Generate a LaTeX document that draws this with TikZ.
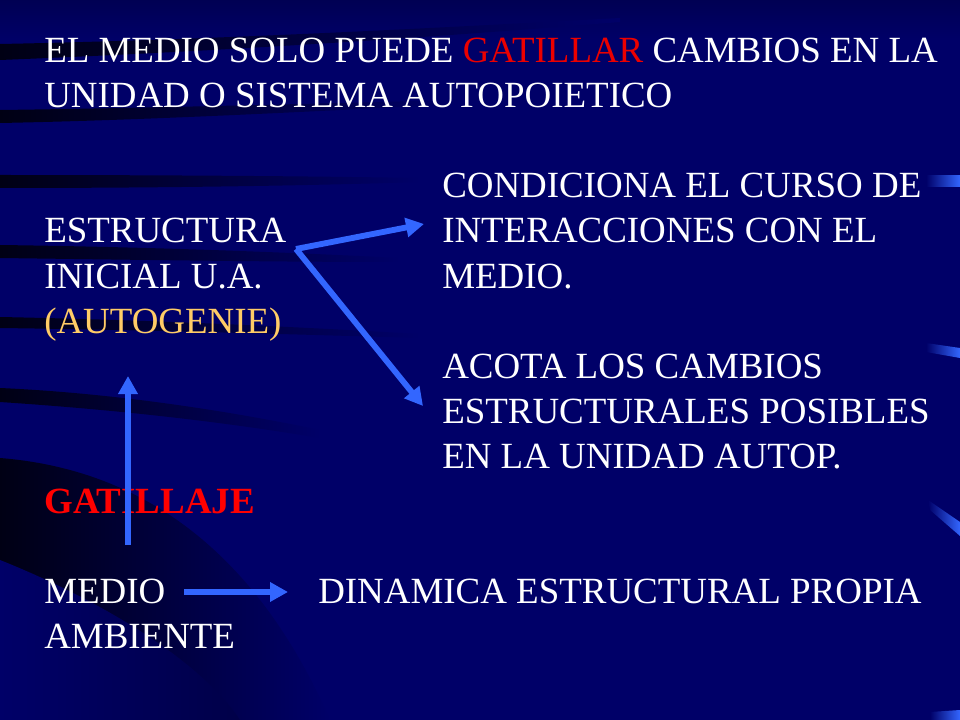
\documentclass[tikz,border=0pt]{standalone}
\usepackage{fontspec}
\setmainfont{Liberation Serif}
\usetikzlibrary{arrows.meta}
\definecolor{bgnavy}{RGB}{0,0,104}
\definecolor{bgdark}{RGB}{0,0,20}
\definecolor{arrowblue}{RGB}{51,102,255}
\definecolor{titlered}{RGB}{235,0,0}
\definecolor{gold}{RGB}{255,204,102}
\begin{document}
\begin{tikzpicture}[x=0.75pt,y=-0.75pt,
  txt/.style={anchor=base west,inner sep=0pt,text=white,font=\fontsize{27.7}{33.2}\selectfont},
  arr/.style={draw=arrowblue,line width=4.4pt,-{Triangle[length=13.5pt,width=14pt]}},
  streak/.style={left color=bgdark,right color=bgnavy}]
% background
\useasboundingbox (0,0) rectangle (960,720);
\fill[bgnavy] (0,0) rectangle (960,720);
\shade[top color=bgnavy!80!black,bottom color=bgnavy] (0,0) rectangle (960,40);
% dark streaks
\shade[streak] (0,44) .. controls (200,40) and (400,30) .. (620,18) -- (620,22) .. controls (400,40) and (200,52) .. (0,60) -- cycle;
\shade[streak] (0,110) .. controls (150,108) and (300,104) .. (460,100) -- (460,104) .. controls (300,112) and (150,120) .. (0,123) -- cycle;
\shade[streak] (0,175) .. controls (150,175) and (300,176) .. (420,178) -- (420,182) .. controls (300,186) and (150,188) .. (0,188) -- cycle;
\shade[streak] (0,245) .. controls (150,247) and (280,252) .. (400,258) -- (400,262) .. controls (280,262) and (150,260) .. (0,258) -- cycle;
\shade[streak] (0,317) .. controls (150,320) and (280,326) .. (420,334) -- (420,338) .. controls (280,334) and (150,330) .. (0,328) -- cycle;
\shade[streak] (0,388) .. controls (90,392) and (200,405) .. (320,430) -- (320,438) .. controls (200,418) and (90,408) .. (0,402) -- cycle;
\shade[left color=bgdark,right color=bgnavy] (0,458) .. controls (150,470) and (260,560) .. (330,720) -- (0,720) -- cycle;
\shade[left color=bgnavy,right color=bgnavy!70!black] (0,560) .. controls (100,600) and (200,660) .. (240,720) -- (0,720) -- cycle;
% right-edge marks
\shade[left color=bgnavy,right color=arrowblue] (926,176) rectangle (960,187);
\shade[left color=bgnavy,right color=arrowblue] (926,343) -- (960,348) -- (960,358) -- (926,352) -- cycle;
\shade[left color=bgnavy,right color=arrowblue] (928,500) -- (960,522) -- (960,536) -- (930,510) -- cycle;
\shade[left color=bgnavy,right color=arrowblue] (930,712) -- (960,710) -- (960,720) -- (930,720) -- cycle;
% texts
\node[txt] (t1) at (44,63) {EL MEDIO SOLO PUEDE \textcolor{titlered}{GATILLAR} CAMBIOS EN LA};
\node[txt] (t2) at (44,108) {UNIDAD O SISTEMA AUTOPOIETICO};
\node[txt] (c1) at (442,198) {CONDICIONA EL CURSO DE};
\node[txt] (c2) at (442,243) {INTERACCIONES CON EL};
\node[txt] (c3) at (442,288) {MEDIO.};
\node[txt] (e1) at (44,243) {ESTRUCTURA};
\node[txt] (e2) at (44,288) {INICIAL U.A.};
\node[txt,text=gold] (e3) at (44,333) {(AUTOGENIE)};
\node[txt] (a1) at (442,378) {ACOTA LOS CAMBIOS};
\node[txt] (a2) at (442,423) {ESTRUCTURALES POSIBLES};
\node[txt] (a3) at (442,468) {EN LA UNIDAD AUTOP.};
\node[txt,text=red,font=\fontsize{27.7}{33.2}\selectfont\bfseries] (g) at (44,513) {GATILLAJE};
\node[txt] (m1) at (44,603) {MEDIO};
\node[txt] (m2) at (44,648) {AMBIENTE};
\node[txt] (d) at (318,603) {DINAMICA ESTRUCTURAL PROPIA};
% arrows
\coordinate (fork) at (296,249);
\coordinate (tipup) at (424,224);
\coordinate (tipdown) at (423,406);
\coordinate (vbot) at (128,545);
\coordinate (vtop) at (128,376);
\coordinate (hstart) at (184,592);
\coordinate (hend) at (288,592);
\draw[arr] (fork) -- (tipup);
\draw[arr] (fork) -- (tipdown);
\draw[arr] (vbot) -- (vtop);
\draw[arr] (hstart) -- (hend);
\end{tikzpicture}
\end{document}
